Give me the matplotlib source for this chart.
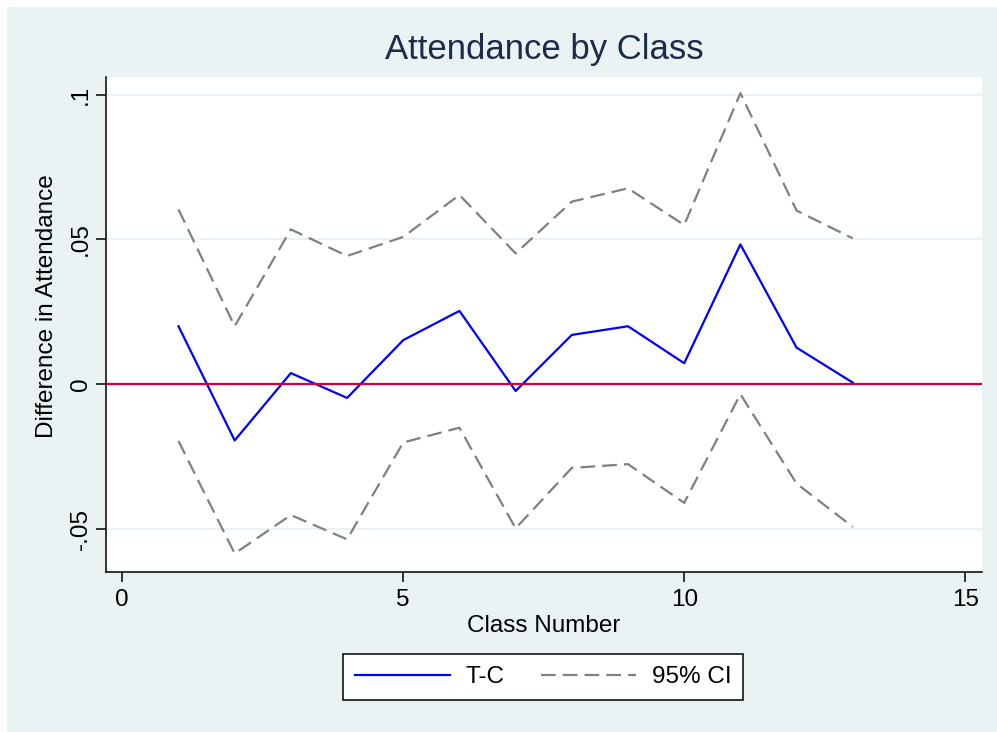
import numpy as np
import matplotlib.pyplot as plt
from matplotlib.patches import Rectangle

plt.rcParams['font.family'] = ['Liberation Sans', 'DejaVu Sans']

# values
classes = [1, 2, 3, 4, 5, 6, 7, 8, 9, 10, 11, 12, 13]
diff = [0.020, -0.0195, 0.0038, -0.0048, 0.0152, 0.0253, -0.0024,
        0.017, 0.020, 0.0072, 0.0483, 0.0126, 0.0005]
ci_hi = [0.0604, 0.020, 0.0535, 0.0443, 0.0509, 0.0654, 0.0452,
         0.0631, 0.0677, 0.055, 0.1006, 0.060, 0.0504]
ci_lo = [-0.0197, -0.0586, -0.0453, -0.0537, -0.0202, -0.0151, -0.0499,
         -0.029, -0.0277, -0.0411, -0.0035, -0.0344, -0.0494]
xticks = [0, 5, 10, 15]
yticks = [-0.05, 0, 0.05, 0.1]
yticklabels = ['-.05', '0', '.05', '.1']

W, H = 997, 732
bg = '#EAF2F3'
fig = plt.figure(figsize=(W / 100, H / 100), dpi=100, facecolor='white')
fig.patches.append(Rectangle((7 / W, 0), 1 - 7 / W, 1 - 7 / H,
                             transform=fig.transFigure, facecolor=bg,
                             edgecolor='none', zorder=-10))

# plot region in pixels: x 106..982, y 77..572
ax = fig.add_axes([106 / W, 1 - 572 / H, (982 - 106) / W, (572 - 77) / H])
ax.set_facecolor('white')
ax.set_xlim(-0.29, 15.3)
ax.set_ylim(-0.065, 0.1062)

for y in yticks:
    ax.axhline(y, color=bg, lw=1.5, zorder=0)

dash = (0, (6.6, 3.2))
ax.plot(classes, diff, color='#0000FF', lw=1.6, label='T-C', zorder=3)
ax.plot(classes, ci_hi, color='#808080', lw=1.6, ls=dash, label='95% CI', zorder=2)
ax.plot(classes, ci_lo, color='#808080', lw=1.6, ls=dash, zorder=2)
ax.axhline(0, color='#D4003C', lw=1.6, zorder=4)

for s in ['top', 'right']:
    ax.spines[s].set_visible(False)
for s in ['left', 'bottom']:
    ax.spines[s].set_linewidth(1.1)
    ax.spines[s].set_color('black')

ax.set_xticks(xticks)
ax.set_yticks(yticks)
ax.set_yticklabels(yticklabels, rotation=90, va='center')
ax.tick_params(axis='both', length=7, width=1.1, labelsize=17.5, pad=5)
ax.tick_params(axis='y', pad=3)

ax.set_xlabel('Class Number', fontsize=17.5, labelpad=3)
fig.text(47 / W, 1 - 306 / H, 'Difference in Attendance', rotation=90,
         fontsize=17.5, ha='center', va='center')
fig.text(544 / W, 1 - 50 / H, 'Attendance by Class', fontsize=25,
         color='#1A2B4C', ha='center', va='center')

leg = ax.legend(loc='center', bbox_to_anchor=(543 / W, 1 - 677 / H),
                bbox_transform=fig.transFigure, ncol=2, fontsize=17.5,
                frameon=True, fancybox=False, edgecolor='black', framealpha=1,
                handlelength=3.9, handletextpad=0.65, columnspacing=1.5,
                borderpad=0.5, borderaxespad=0)
leg.get_frame().set_linewidth(1.1)

fig.savefig('out.png', dpi=100, facecolor=fig.get_facecolor())
